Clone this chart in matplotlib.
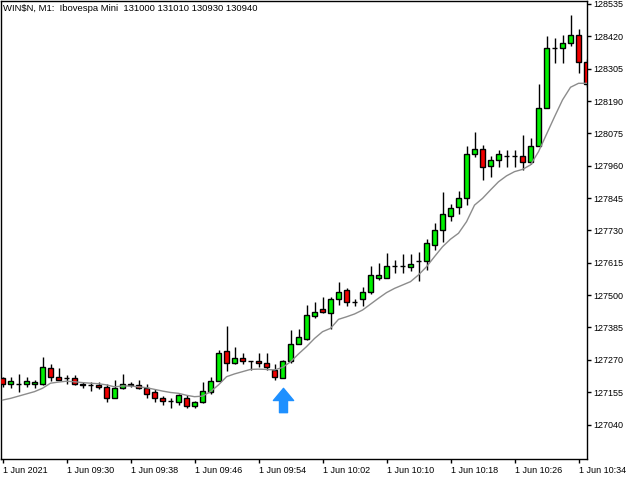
import matplotlib
matplotlib.use('Agg')
import matplotlib.pyplot as plt
import matplotlib.transforms as mtransforms
from matplotlib.path import Path

# WIN$N M1 bars, 09:22 .. 10:35
opens = [127205, 127185, 127185, 127185, 127185, 127185, 127240, 127210, 127205, 127205,
         127185, 127180, 127180, 127175, 127135, 127170, 127185, 127180, 127170, 127155,
         127135, 127125, 127120, 127135, 127105, 127120, 127155, 127195, 127300, 127260,
         127275, 127265, 127265, 127260, 127235, 127205, 127265, 127325, 127345, 127425,
         127450, 127435, 127485, 127520, 127475, 127485, 127510, 127560, 127560, 127605,
         127605, 127600, 127620, 127620, 127680, 127730, 127780, 127815, 127845, 128000,
         128020, 127960, 127980, 127995, 127995, 127995, 127975, 128030, 128165, 128380,
         128380, 128395, 128425, 128330]
highs = [127210, 127210, 127220, 127210, 127200, 127280, 127255, 127240, 127215, 127215,
         127190, 127190, 127190, 127185, 127200, 127220, 127190, 127200, 127185, 127165,
         127140, 127135, 127150, 127145, 127125, 127190, 127210, 127305, 127390, 127315,
         127295, 127265, 127295, 127295, 127255, 127270, 127375, 127380, 127465, 127475,
         127495, 127495, 127545, 127525, 127485, 127530, 127605, 127615, 127650, 127625,
         127645, 127645, 127655, 127700, 127755, 127865, 127825, 127870, 128030, 128080,
         128035, 127995, 128015, 128015, 128015, 128070, 128060, 128250, 128420, 128415,
         128425, 128495, 128445, 128340]
lows = [127175, 127170, 127155, 127175, 127170, 127180, 127195, 127200, 127185, 127180,
        127170, 127160, 127165, 127120, 127135, 127165, 127175, 127165, 127135, 127120,
        127110, 127100, 127110, 127100, 127100, 127115, 127150, 127195, 127230, 127255,
        127255, 127235, 127245, 127235, 127200, 127205, 127260, 127325, 127340, 127420,
        127435, 127380, 127465, 127460, 127460, 127460, 127505, 127555, 127560, 127580,
        127580, 127585, 127550, 127590, 127660, 127690, 127765, 127790, 127820, 127990,
        127910, 127920, 127955, 127955, 127955, 127945, 127965, 128030, 128165, 128325,
        128325, 128385, 128290, 128240]
closes = [127185, 127195, 127185, 127195, 127190, 127245, 127210, 127200, 127205, 127185,
          127180, 127180, 127175, 127135, 127170, 127185, 127180, 127170, 127150, 127135,
          127125, 127125, 127145, 127105, 127120, 127160, 127195, 127295, 127260, 127275,
          127265, 127265, 127260, 127245, 127210, 127265, 127325, 127350, 127430, 127440,
          127440, 127485, 127510, 127475, 127475, 127510, 127570, 127570, 127605, 127605,
          127605, 127610, 127620, 127685, 127730, 127790, 127810, 127845, 128000, 128020,
          127955, 127980, 128000, 127995, 127995, 127975, 128030, 128165, 128380, 128380,
          128395, 128425, 128330, 128250]
ma_values = [127127, 127133, 127141, 127149, 127157, 127169, 127187, 127191, 127194, 127192,
             127189, 127187, 127185, 127181, 127174, 127177, 127177, 127174, 127171, 127165,
             127159, 127154, 127151, 127144, 127139, 127141, 127157, 127181, 127210, 127220,
             127228, 127236, 127237, 127236, 127234, 127243, 127263, 127291, 127317, 127346,
             127370, 127382, 127414, 127423, 127433, 127447, 127468, 127489, 127509, 127524,
             127536, 127548, 127572, 127601, 127637, 127672, 127699, 127720, 127761, 127820,
             127844, 127874, 127903, 127924, 127939, 127947, 127963, 128010, 128072, 128134,
             128194, 128239, 128253, 128253]
buy_signals = [35]

xtick_pos = [0, 8, 16, 24, 32, 40, 48, 56, 64, 72]
xtick_labels = ['1 Jun 2021', '1 Jun 09:30', '1 Jun 09:38', '1 Jun 09:46', '1 Jun 09:54',
                '1 Jun 10:02', '1 Jun 10:10', '1 Jun 10:18', '1 Jun 10:26', '1 Jun 10:34']
ytick_vals = [127040, 127155, 127270, 127385, 127500, 127615, 127730, 127845,
              127960, 128075, 128190, 128305, 128420, 128535]
header = 'WIN$N, M1:  Ibovespa Mini  131000 131010 130930 130940'

plt.rcParams['font.family'] = ['Liberation Sans', 'DejaVu Sans']

fig = plt.figure(figsize=(6.4, 4.8), dpi=100)
ax = fig.add_axes([1 / 640, 21 / 480, 586 / 640, 458 / 480])

idx = list(range(len(opens)))
ax.vlines(idx, lows, highs, color='black', lw=1, zorder=2)
up_color = '#00F000'
down_color = '#F00000'
for i in idx:
    fc = up_color if closes[i] > opens[i] else (down_color if closes[i] < opens[i] else 'black')
    ax.bar(i, closes[i] - opens[i], bottom=opens[i], width=0.6, color=fc,
           edgecolor='black', linewidth=1, zorder=3)

ax.plot(idx, ma_values, color='#8c8c8c', lw=1, zorder=4)

# signal arrow below the bar low
arrow = Path([(-0.83, 0.0), (0.0, 1.0), (0.83, 0.0), (0.33, 0.0), (0.33, -1.0),
              (-0.33, -1.0), (-0.33, 0.0), (-0.83, 0.0)],
             [Path.MOVETO] + [Path.LINETO] * 6 + [Path.CLOSEPOLY])
shift = mtransforms.ScaledTranslation(0, -22 / 100, fig.dpi_scale_trans)
for b in buy_signals:
    ax.plot(b, lows[b], marker=arrow, markersize=17.5, color='#1E90FF',
            markeredgecolor='#1E90FF', transform=ax.transData + shift, zorder=5)

ax.set_xlim(-0.19, 73.06)
ax.set_ylim(126917.5, 128545.6)

ax.yaxis.tick_right()
ax.set_yticks(ytick_vals)
ax.set_yticklabels([str(v) for v in ytick_vals])
ax.set_xticks(xtick_pos)
ax.set_xticklabels(xtick_labels)
for lbl in ax.get_xticklabels():
    lbl.set_horizontalalignment('left')
ax.tick_params(axis='both', direction='out', length=3, width=1, color='black',
               labelsize=6.5, labelcolor='black')
ax.tick_params(axis='y', pad=1.5)
ax.tick_params(axis='x', pad=2)

for sp in ax.spines.values():
    sp.set_color('black')
    sp.set_linewidth(1)

ax.text(0.004, 0.993, header, transform=ax.transAxes, ha='left', va='top',
        fontsize=6.8, color='black')

fig.savefig('out.png', dpi=100)
